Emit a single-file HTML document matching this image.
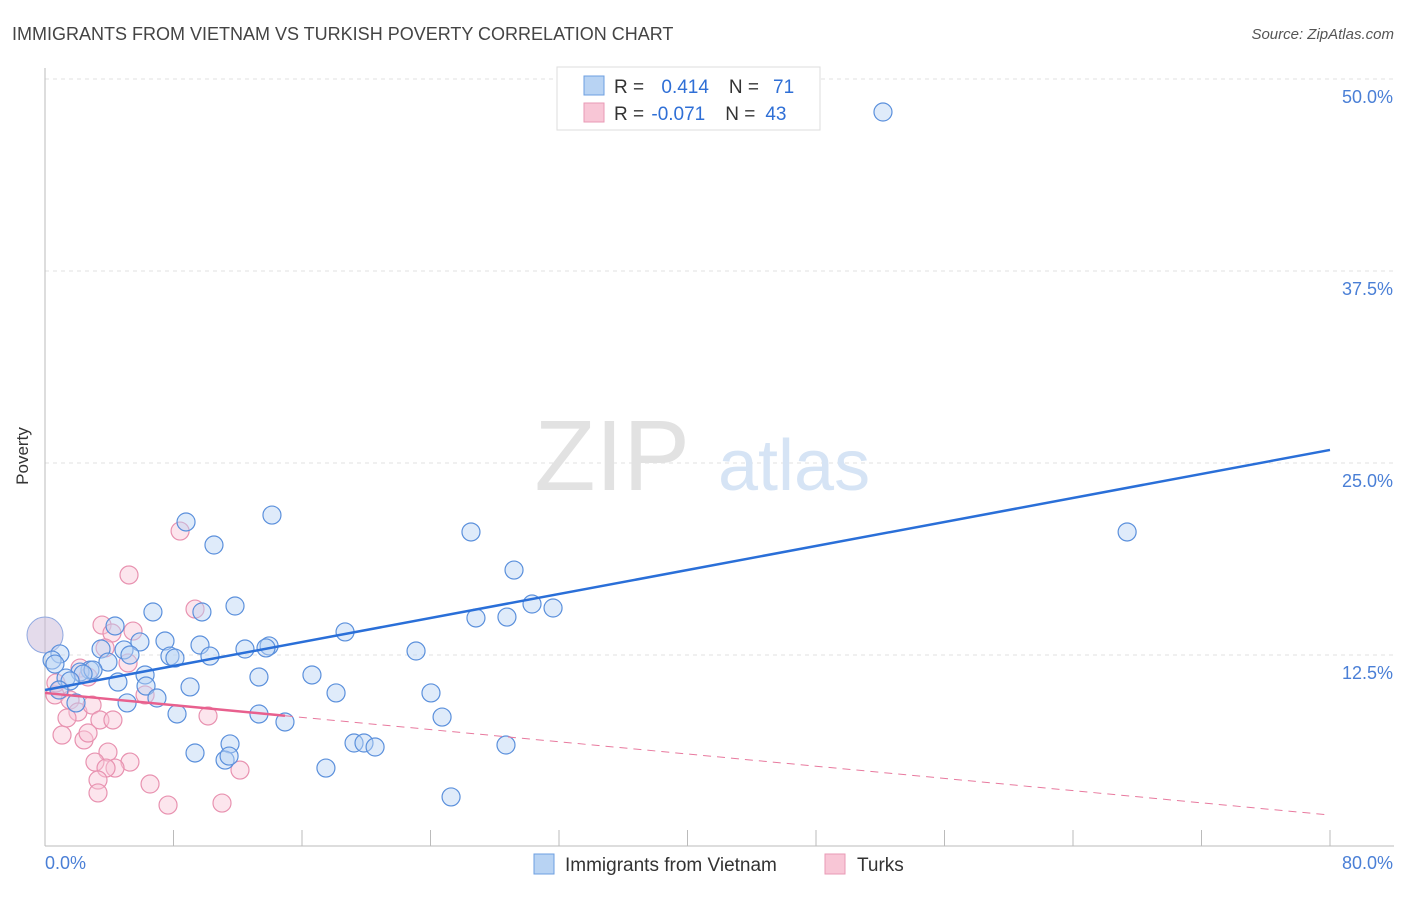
<!DOCTYPE html>
<html><head><meta charset="utf-8"><style>
body{margin:0;background:#fff;font-family:"Liberation Sans",sans-serif;}
svg text{font-family:"Liberation Sans",sans-serif;}
</style></head><body>
<svg id="chart" width="1406" height="892" xmlns="http://www.w3.org/2000/svg">
<text x="12" y="40" font-size="18" fill="#444">IMMIGRANTS FROM VIETNAM VS TURKISH POVERTY CORRELATION CHART</text>
<text x="1394" y="39" font-size="15" fill="#555" font-style="italic" text-anchor="end">Source: ZipAtlas.com</text>
<g id="grid"></g>
<text x="690" y="490" font-size="100" fill="#e2e2e2" font-family="Liberation Serif" text-anchor="end">ZIP</text>
<text x="718" y="490" font-size="72" fill="#d6e4f5">atlas</text>
<g id="axes"></g>
<g id="pinkPts"></g>
<g id="bluePts"></g>
<g id="lines"></g>
<text x="28" y="456" font-size="17" fill="#333" transform="rotate(-90 28 456)" text-anchor="middle">Poverty</text>
<text x="45" y="869" font-size="18" fill="#4a7fd6">0.0%</text>
<text x="1393" y="869" font-size="18" fill="#4a7fd6" text-anchor="end">80.0%</text>
<g>
<rect x="557" y="67" width="263" height="63" fill="#fff" stroke="#ddd"/>
<rect x="584" y="76" width="20" height="19" fill="#b8d3f3" stroke="#6d9fe0"/>
<rect x="584" y="103" width="20" height="19" fill="#f8c6d6" stroke="#e99ab5"/>
<text x="614" y="93" font-size="19" fill="#333">R = <tspan fill="#2f6fd6" dx="12">0.414</tspan><tspan dx="20">N =</tspan><tspan fill="#2f6fd6" dx="14">71</tspan></text>
<text x="614" y="120" font-size="19" fill="#333">R = <tspan fill="#2f6fd6" dx="2">-0.071</tspan><tspan dx="20">N =</tspan><tspan fill="#2f6fd6" dx="10">43</tspan></text>
</g>
<g>
<rect x="534" y="854" width="20" height="20" fill="#b8d3f3" stroke="#6d9fe0"/>
<text x="565" y="871" font-size="19" fill="#333">Immigrants from Vietnam</text>
<rect x="825" y="854" width="20" height="20" fill="#f8c6d6" stroke="#e99ab5"/>
<text x="857" y="871" font-size="19" fill="#333">Turks</text>
</g>
</svg>
<script>
const yTicks=[12.5,25,37.5,50];
const yTickLabels=["12.5%","25.0%","37.5%","50.0%"];
const xTickCount=10;
const blueX=[52.17,8.78,14.13,10.52,26.52,67.37,29.2,6.72,11.83,9.77,30.32,31.63,26.83,28.76,4.36,18.68,7.47,5.91,9.65,13.95,13.76,12.45,4.92,23.1,3.49,0.93,5.29,7.78,8.09,10.27,0.44,0.62,3.92,2.8,2.18,2.99,2.37,1.31,1.56,16.62,13.32,6.23,4.54,9.03,0.87,18.12,24.03,6.29,5.11,6.97,1.93,8.22,13.32,24.72,14.94,9.34,11.52,11.21,11.46,19.24,19.86,20.55,28.7,17.49,25.28];
const blueY=[47.85,21.16,21.61,19.66,20.51,20.51,18.03,15.3,15.69,15.3,15.82,15.56,14.91,14.97,14.39,14.0,13.41,13.35,13.15,13.09,12.96,12.89,12.83,12.76,12.89,12.57,12.5,12.43,12.3,12.43,12.17,11.91,12.04,11.52,11.39,11.52,11.26,11.0,10.81,11.2,11.07,11.2,10.74,10.42,10.22,10.03,10.03,10.48,9.38,9.7,9.38,8.66,8.66,8.46,8.14,6.12,6.71,5.66,5.92,6.77,6.77,6.51,6.64,5.14,3.26];
const pinkX=[8.41,5.23,9.34,3.55,4.17,5.48,5.17,3.74,2.18,0.93,2.68,0.62,1.56,2.05,2.93,3.42,10.15,4.23,1.06,2.43,2.68,3.92,3.11,5.29,4.36,3.8,12.14,3.3,6.54,3.3,7.66,11.02,0.68,1.37,6.23];
const pinkY=[20.57,17.71,15.49,14.45,13.93,14.06,11.98,12.96,11.65,10.22,11.07,9.9,9.57,8.79,9.24,8.27,8.53,8.27,7.29,6.97,7.42,6.18,5.53,5.53,5.14,5.14,5.01,4.36,4.1,3.52,2.73,2.86,10.68,8.4,9.9];
const bigPoint=[0,13.8];
const blueTrend=[10.22,25.85];
const pinkTrend=[10.03,2.08];
const pinkSolidEnd=14.94;
const NS="http://www.w3.org/2000/svg";
const X=v=>45+v/80*1285, Y=v=>847-v*15.36;
function mk(t,a,p){const e=document.createElementNS(NS,t);for(const k in a)e.setAttribute(k,a[k]);p.appendChild(e);return e;}
const grid=document.getElementById('grid');
yTicks.forEach((t,i)=>{
 const l=mk('line',{x1:45,x2:1394,y1:Y(t),y2:Y(t),stroke:'#e2e2e2','stroke-dasharray':'4,4'},grid);
 
 
 const tx=mk('text',{x:1393,y:Y(t)+24,'font-size':18,fill:'#4a7fd6','text-anchor':'end'},grid);
 tx.textContent=yTickLabels[i];
 
 
});
const axes=document.getElementById('axes');
mk('line',{x1:45,x2:45,y1:68,y2:846,stroke:'#bbb'},axes);
mk('line',{x1:45,x2:1394,y1:846,y2:846,stroke:'#bbb'},axes);
for(let i=1;i<=xTickCount;i++){const t=mk('line',{x1:X(i*8),x2:X(i*8),y1:830,y2:846,stroke:'#bbb'},axes);
 
 }
function pts(xs,ys,g,fill,stroke,name){xs.forEach((x,i)=>{const c=mk('circle',{cx:X(x),cy:Y(ys[i]),r:9,fill:fill,'fill-opacity':0.45,stroke:stroke,'stroke-width':1.2},g);
 
 });}
const pg=document.getElementById('pinkPts'),bg=document.getElementById('bluePts');
pts(pinkX,pinkY,pg,'#f8c6d6','#e892b0','turks-point');
const big=mk('circle',{cx:X(bigPoint[0]),cy:Y(bigPoint[1]),r:18,fill:'#c9b8d8','fill-opacity':0.5,stroke:'#8fa8e0'},bg);


pts(blueX,blueY,bg,'#b8d3f3','#5b90dc','vietnam-point');
const lg=document.getElementById('lines');
const bl=mk('line',{x1:X(0),y1:Y(blueTrend[0]),x2:X(80),y2:Y(blueTrend[1]),stroke:'#2a6fd8','stroke-width':2.5},lg);


const pAt=x=>pinkTrend[0]+(pinkTrend[1]-pinkTrend[0])*x/80;
const pd=mk('line',{x1:X(pinkSolidEnd),y1:Y(pAt(pinkSolidEnd)),x2:X(80),y2:Y(pinkTrend[1]),stroke:'#e8799e','stroke-width':1,'stroke-dasharray':'8,6'},lg);


const ps=mk('line',{x1:X(0),y1:Y(pinkTrend[0]),x2:X(pinkSolidEnd),y2:Y(pAt(pinkSolidEnd)),stroke:'#e8608e','stroke-width':2.5},lg);


</script>
</body></html>
